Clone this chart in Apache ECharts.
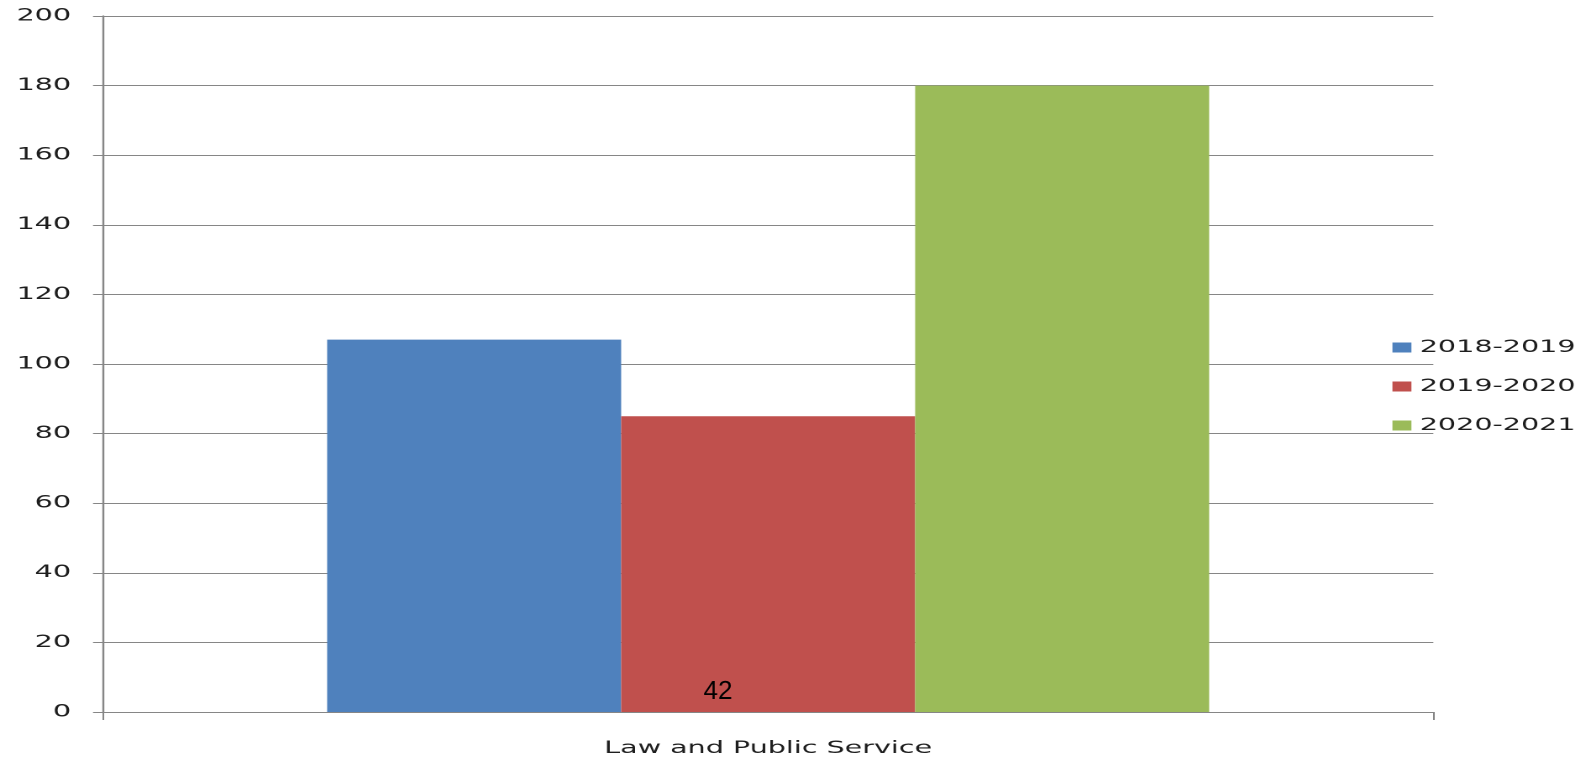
<!DOCTYPE html>
<html>
<head>
<meta charset="utf-8">
<script src="https://cdn.jsdelivr.net/npm/echarts@6/dist/echarts.min.js"></script>
<style>
html,body{margin:0;padding:0;background:#fff;overflow:hidden;width:1594px;height:760px;}
#chart{position:absolute;left:0;top:0;height:760px;transform-origin:0 0;}
</style>
</head>
<body>
<div id="chart"></div>
<script>
// ---- data ----
const categories = ['Law and Public Service'];
const seriesNames = ['2018-2019', '2019-2020', '2020-2021'];
const values2018_2019 = [107];
const values2019_2020 = [85];
const values2020_2021 = [180];
const yMin = 0, yMax = 200, yInterval = 20;
const strayText = '42';

// ---- layout (reference image is horizontally stretched) ----
const STRETCH = 1.68;
const W = 1594 / STRETCH;
const el = document.getElementById('chart');
el.style.width = W + 'px';
el.style.transform = 'scaleX(' + STRETCH + ')';
const X = v => v / STRETCH;

const colors = ['#4F81BD', '#C0504D', '#9BBB59'];
const txt = '#1e1e1e';
const lineCol = '#868686';
const font = 'DejaVu Sans';

const chart = echarts.init(el, null, { renderer: 'canvas', devicePixelRatio: 2 });
const mk = (name, data, i) => ({
  name, type: 'bar', data,
  itemStyle: { color: colors[i] },
  barGap: '0%', barCategoryGap: '33.7%',
  animation: false
});
chart.setOption({
  animation: false,
  backgroundColor: '#fff',
  grid: { left: X(103), right: W - X(1433), top: 16, bottom: 48, containLabel: false },
  legend: {
    orient: 'vertical', left: X(1384), top: 334,
    itemWidth: X(19), itemHeight: 10, itemGap: 22,
    icon: 'rect',
    textStyle: { fontFamily: font, fontSize: 17, color: txt },
    data: seriesNames
  },
  xAxis: {
    type: 'category', data: categories,
    axisLine: { lineStyle: { color: lineCol, width: 1 } },
    axisTick: { show: true, length: 8, lineStyle: { color: lineCol } },
    axisLabel: { margin: 28, fontFamily: font, fontSize: 17, color: txt }
  },
  yAxis: {
    type: 'value', min: yMin, max: yMax, interval: yInterval,
    axisLine: { show: true, lineStyle: { color: lineCol, width: 1.2 } },
    axisTick: { show: true, length: X(10), lineStyle: { color: lineCol } },
    splitLine: { show: true, lineStyle: { color: lineCol, width: 1 } },
    axisLabel: { margin: X(32), fontFamily: font, fontSize: 17, color: txt }
  },
  series: [
    mk(seriesNames[0], values2018_2019, 0),
    mk(seriesNames[1], values2019_2020, 1),
    mk(seriesNames[2], values2020_2021, 2)
  ],
  graphic: [{
    type: 'text', x: X(718), y: 692, scaleX: 1 / STRETCH, z: 100,
    style: { text: strayText, fill: '#000', font: '26px "Liberation Sans"', align: 'center', verticalAlign: 'middle' }
  }]
});
</script>
</body>
</html>
